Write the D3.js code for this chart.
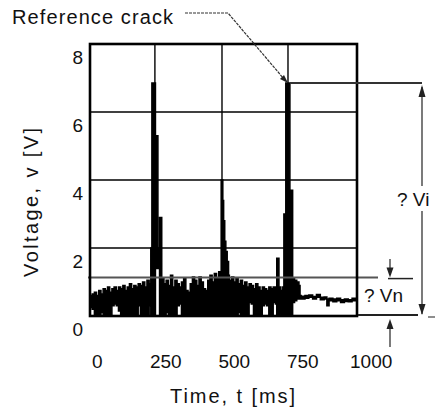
<!DOCTYPE html>
<html>
<head>
<meta charset="utf-8">
<script src="https://cdn.jsdelivr.net/npm/d3@7"></script>
<style>
  body { margin: 0; background: #fff; }
  svg text { font-family: "Liberation Sans", Arial, sans-serif; fill: #111; }
</style>
</head>
<body>
<svg id="chart" width="437" height="416"></svg>
<script>
// axis ticks / grid
const xTicks = [0, 250, 500, 750, 1000]
const yTicks = [0, 2, 4, 6, 8]
const xGrid = [212, 457, 698]
const yGrid = [2, 4, 6]
const tRange = [-25, 950]
const vRange = [0, 8]

// signal envelope per time bin: [t (ms), low (V), high (V)]
const noiseA = [
  [-25, 0.25, 0.6], [-17, 0.2, 0.65], [-9, 0, 0.7], [-1, 0, 0.6], [7, 0, 0.75],
  [15, 0.1, 0.65], [23, 0, 0.8], [31, 0, 0.75], [39, 0, 0.85], [47, 0, 0.7],
  [55, 0.3, 0.8], [63, 0.35, 0.85], [71, 0.3, 0.75], [79, 0.15, 0.85], [87, 0, 0.8],
  [95, 0, 0.9], [103, 0, 0.75], [111, 0, 0.85], [119, 0, 0.95], [127, 0, 0.8],
  [135, 0, 0.9], [143, 0, 0.85], [151, 0.3, 0.95], [159, 0, 0.9], [167, 0, 1.0],
  [175, 0, 0.85], [183, 0, 1.05], [191, 0.3, 0.95], [197, 0, 2.0]
]
const spike1 = [
  [201, 0, 6.85], [214, 1.4, 5.3], [223, 1.4, 2.0], [229, 0, 2.9]
]
const noiseB = [
  [237, 0, 1.1], [245, 0, 0.95], [253, 0.1, 1.05], [261, 0, 0.9], [269, 0, 1.2],
  [277, 0, 0.85], [285, 0, 1.05], [293, 0.3, 0.95], [301, 0.35, 0.85], [309, 0, 1.0],
  [317, 0, 1.1], [325, 0, 0.75], [333, 0, 0.7], [341, 0, 0.95], [349, 0, 1.15],
  [357, 0, 1.05], [365, 0, 0.9], [373, 0.05, 1.15], [381, 0, 1.0], [389, 0, 0.8],
  [397, 0, 0.75], [405, 0, 1.05], [413, 0, 1.2], [421, 0, 1.0], [429, 0, 1.25],
  [437, 0, 1.1], [445, 0, 1.3], [451, 0, 1.15]
]
const spike2 = [
  [454, 0, 4.0], [460, 0, 3.4], [463, 0, 2.8], [467, 0, 2.2], [471, 0, 1.9],
  [476, 0, 1.6], [481, 0.25, 1.2]
]
const noiseC = [
  [484, 0, 1.05], [492, 0, 1.15], [500, 0, 1.0], [508, 0, 1.1], [516, 0.1, 0.95],
  [524, 0, 1.05], [532, 0, 0.9], [540, 0, 1.0], [548, 0, 0.85], [556, 0.4, 0.95],
  [564, 0.35, 0.9], [572, 0, 0.8], [580, 0, 0.95], [588, 0, 0.85], [596, 0, 0.75],
  [604, 0.3, 0.85], [612, 0.35, 0.8], [620, 0.3, 0.75], [628, 0, 0.85], [636, 0, 0.8],
  [644, 0.4, 0.85], [652, 0.35, 0.75], [657, 0, 1.7], [665, 0, 0.85], [672, 0.05, 0.75],
  [679, 0, 0.85]
]
const spike3 = [
  [683, 0, 3.0], [687, 0, 1.0], [690, 0, 6.85], [705, 0, 3.7], [715, 0.4, 1.1],
  [722, 0.45, 1.05], [730, 0.5, 1.0], [738, 0.5, 0.9]
]
const tail = [
  [742, 0.5, 0.6], [746, 0.5, 0.58], [760, 0.52, 0.6], [774, 0.55, 0.62], [788, 0.5, 0.57],
  [802, 0.55, 0.63], [816, 0.48, 0.55], [830, 0.5, 0.56], [840, 0.3, 0.5], [848, 0.45, 0.52],
  [862, 0.42, 0.5], [876, 0.45, 0.52], [890, 0.4, 0.48], [904, 0.43, 0.5], [918, 0.42, 0.48],
  [932, 0.45, 0.52], [948, 0.45, 0.52]
]
const threshold = 1.13
const peakV = 6.85

const signal = [].concat(noiseA, spike1, noiseB, spike2, noiseC, spike3, tail)

const svg = d3.select('#chart')

const x = d3.scaleLinear().domain(tRange).range([90, 357])
const y = d3.scaleLinear().domain(vRange).range([316, 44])

// grid
svg.append('g').selectAll('line').data(xGrid).join('line')
  .attr('x1', d => x(d)).attr('x2', d => x(d))
  .attr('y1', y(8)).attr('y2', y(0))
  .attr('stroke', '#000').attr('stroke-width', 1.4)
svg.append('g').selectAll('line').data(yGrid).join('line')
  .attr('x1', x(tRange[0])).attr('x2', x(tRange[1]))
  .attr('y1', d => y(d)).attr('y2', d => y(d))
  .attr('stroke', '#000').attr('stroke-width', 1.4)

// signal (min/max envelope)
const area = d3.area()
  .curve(d3.curveStepAfter)
  .x(d => x(d[0]))
  .y0(d => y(d[1]))
  .y1(d => y(d[2]))
svg.append('path')
  .datum(signal)
  .attr('d', area)
  .attr('fill', '#000')
  .attr('stroke', '#000')
  .attr('stroke-width', 1.5)

// threshold line
svg.append('line')
  .attr('x1', 88).attr('x2', 378)
  .attr('y1', y(threshold)).attr('y2', y(threshold))
  .attr('stroke', '#555').attr('stroke-width', 2)

// frame
svg.append('rect')
  .attr('x', x(tRange[0])).attr('y', y(8))
  .attr('width', x(tRange[1]) - x(tRange[0]))
  .attr('height', y(0) - y(8))
  .attr('fill', 'none').attr('stroke', '#000').attr('stroke-width', 2.6)

// axes (labels only)
let gx = svg.append('g')
  .attr('transform', 'translate(0,' + y(0) + ')')
  .call(d3.axisBottom(x).tickValues(xTicks).tickFormat(d3.format('d')).tickSize(0).tickPadding(39))
gx.select('.domain').remove()
gx.selectAll('text')
  .style('font-family', '"Liberation Sans", Arial, sans-serif')
  .style('font-size', '19px')
  .attr('fill', '#111')

let gy = svg.append('g')
  .attr('transform', 'translate(' + x(tRange[0]) + ',0)')
  .call(d3.axisLeft(y).tickValues(yTicks).tickSize(0).tickPadding(7))
gy.select('.domain').remove()
gy.selectAll('text')
  .style('font-family', '"Liberation Sans", Arial, sans-serif')
  .style('font-size', '19px')
  .attr('fill', '#111')
  .attr('dy', '1em')

// axis titles
svg.append('text')
  .attr('x', 170).attr('y', 403)
  .attr('textLength', 125).attr('lengthAdjust', 'spacing')
  .style('font-size', '20px')
  .text('Time, t [ms]')
svg.append('text')
  .attr('transform', 'translate(38,277) rotate(-90)')
  .attr('textLength', 149).attr('lengthAdjust', 'spacing')
  .style('font-size', '20px')
  .text('Voltage, v [V]')

// reference crack callout
svg.append('text')
  .attr('x', 12).attr('y', 24)
  .attr('textLength', 161).attr('lengthAdjust', 'spacing')
  .style('font-size', '20px')
  .text('Reference crack')
svg.append('path')
  .attr('d', 'M185,13 L228,13 L284,79')
  .attr('fill', 'none').attr('stroke', '#333').attr('stroke-width', 1.2)
  .attr('stroke-dasharray', '3,1')
svg.append('path')
  .attr('d', 'M288,83 L280,79 L284,75 Z')
  .attr('fill', '#222')

// Vi annotation
const arrowX = 422
svg.append('line')
  .attr('x1', x(698) + 2).attr('x2', arrowX)
  .attr('y1', y(peakV)).attr('y2', y(peakV))
  .attr('stroke', '#333').attr('stroke-width', 2)
svg.append('line')
  .attr('x1', arrowX).attr('x2', arrowX)
  .attr('y1', y(peakV) + 4).attr('y2', 186)
  .attr('stroke', '#222').attr('stroke-width', 1.2)
svg.append('line')
  .attr('x1', arrowX).attr('x2', arrowX)
  .attr('y1', 211).attr('y2', y(0) - 2)
  .attr('stroke', '#222').attr('stroke-width', 1.2)
svg.append('path')
  .attr('d', `M${arrowX},${y(peakV) + 2} L${arrowX - 3.5},${y(peakV) + 14} L${arrowX + 3.5},${y(peakV) + 14} Z`)
  .attr('fill', '#222')
svg.append('path')
  .attr('d', `M${arrowX},${y(0) - 1} L${arrowX - 3.5},${y(0) - 12} L${arrowX + 3.5},${y(0) - 12} Z`)
  .attr('fill', '#222')
svg.append('text')
  .attr('x', 397).attr('y', 206)
  .style('font-size', '19px')
  .text('? Vi')

// Vn annotation
const vnX = 390
svg.append('line')
  .attr('x1', 388).attr('x2', 413)
  .attr('y1', y(threshold) + 1).attr('y2', y(threshold) + 1)
  .attr('stroke', '#222').attr('stroke-width', 1.5)
svg.append('line')
  .attr('x1', vnX).attr('x2', vnX)
  .attr('y1', 259).attr('y2', 272)
  .attr('stroke', '#222').attr('stroke-width', 1.2)
svg.append('path')
  .attr('d', `M${vnX},${y(threshold)} L${vnX - 3.5},${y(threshold) - 10} L${vnX + 3.5},${y(threshold) - 10} Z`)
  .attr('fill', '#222')
svg.append('line')
  .attr('x1', 358).attr('x2', 418)
  .attr('y1', y(0) - 1).attr('y2', y(0) - 1)
  .attr('stroke', '#222').attr('stroke-width', 2)
svg.append('line')
  .attr('x1', vnX).attr('x2', vnX)
  .attr('y1', 328).attr('y2', 347)
  .attr('stroke', '#222').attr('stroke-width', 1.2)
svg.append('path')
  .attr('d', `M${vnX},${y(0) + 3} L${vnX - 3.5},${y(0) + 13} L${vnX + 3.5},${y(0) + 13} Z`)
  .attr('fill', '#222')
svg.append('line')
  .attr('x1', 428).attr('x2', 435)
  .attr('y1', y(0) + 1).attr('y2', y(0) + 1)
  .attr('stroke', '#444').attr('stroke-width', 1.2)
svg.append('text')
  .attr('x', 364).attr('y', 302)
  .style('font-size', '19px')
  .text('? Vn')
</script>
</body>
</html>
